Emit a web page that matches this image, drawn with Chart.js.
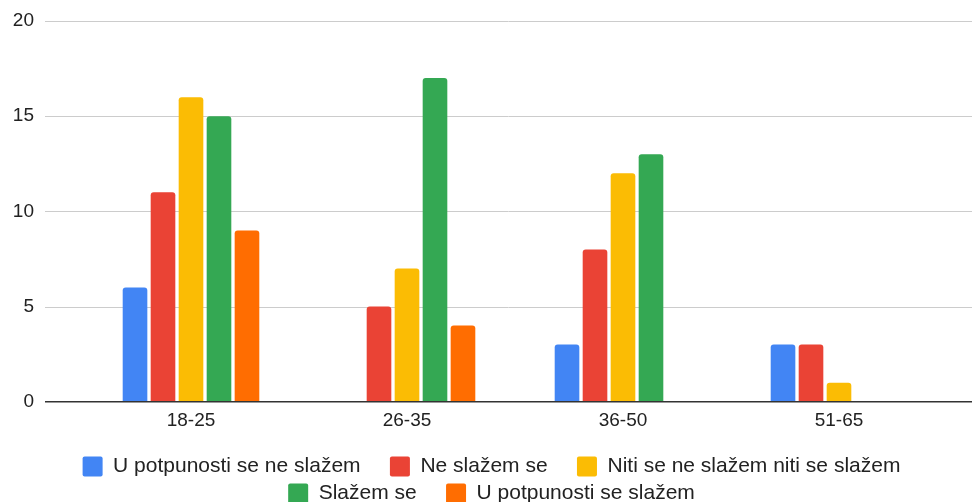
<!DOCTYPE html>
<html><head><meta charset="utf-8">
<script src="https://cdn.jsdelivr.net/npm/chart.js@4.4.1/dist/chart.umd.min.js"></script>
<style>html,body{margin:0;padding:0;background:#fff}canvas{display:block}</style>
</head><body>
<canvas id="c" width="972" height="502"></canvas>
<script>
const categories = ['18-25', '26-35', '36-50', '51-65'];
const seriesNames = ['U potpunosti se ne slažem', 'Ne slažem se', 'Niti se ne slažem niti se slažem', 'Slažem se', 'U potpunosti se slažem'];
const stronglyDisagree = [6, 0, 3, 3];
const disagree = [11, 5, 8, 3];
const neutral = [16, 7, 12, 1];
const agree = [15, 17, 13, 0];
const stronglyAgree = [9, 4, 0, 0];
const yTicks = [0, 5, 10, 15, 20];
const colors = ['#4285F4', '#EA4335', '#FBBC04', '#34A853', '#FF6D01'];
const seriesValues = [stronglyDisagree, disagree, neutral, agree, stronglyAgree];

const FONT = "'Liberation Sans', Arial, sans-serif";
const GRID_LEFT = 45;

const gridPlugin = {
  id: 'extGrid',
  beforeDatasetsDraw(chart) {
    const y = chart.scales.y, ctx = chart.ctx;
    ctx.save();
    ctx.strokeStyle = '#cccccc';
    ctx.lineWidth = 1;
    y.ticks.forEach(t => {
      if (t.value === 0) return;
      const py = Math.round(y.getPixelForValue(t.value)) + 0.5;
      ctx.beginPath(); ctx.moveTo(GRID_LEFT, py); ctx.lineTo(chart.width, py); ctx.stroke();
    });
    ctx.restore();
  },
  afterDatasetsDraw(chart) {
    const y = chart.scales.y, ctx = chart.ctx;
    ctx.save();
    ctx.strokeStyle = '#333333';
    ctx.lineWidth = 1.5;
    const py = y.getPixelForValue(0);
    ctx.beginPath(); ctx.moveTo(GRID_LEFT, py); ctx.lineTo(chart.width, py); ctx.stroke();
    ctx.restore();
  }
};

const suffix = '    ';
new Chart(document.getElementById('c'), {
  type: 'bar',
  data: {
    labels: categories,
    datasets: seriesNames.map((name, i) => ({
      label: name,
      data: seriesValues[i],
      backgroundColor: colors[i],
      borderWidth: 0,
      borderRadius: 3,
      borderSkipped: 'start',
      barPercentage: 0.88,
      categoryPercentage: 0.648
    }))
  },
  options: {
    responsive: false,
    animation: false,
    layout: { padding: { left: 11, right: 0, top: 21, bottom: -12 } },
    plugins: {
      tooltip: { enabled: false },
      legend: {
        position: 'bottom',
        labels: {
          font: { family: FONT, size: 21 },
          color: '#222222',
          boxWidth: 20,
          boxHeight: 20,
          padding: 6,
          useBorderRadius: true,
          borderRadius: 2,
          generateLabels(chart) {
            const items = Chart.defaults.plugins.legend.labels.generateLabels(chart);
            items.forEach((it, i) => {
              if (i === 0 || i === 1 || i === 3) it.text = it.text + suffix;
            });
            return items;
          }
        }
      }
    },
    scales: {
      x: {
        afterFit(scale) { scale.height = 48.3; },
        grid: { display: false, drawTicks: false },
        border: { display: false },
        ticks: { font: { family: FONT, size: 19 }, color: '#222222', padding: 7.5 }
      },
      y: {
        min: 0, max: 20,
        afterBuildTicks(scale) { scale.ticks = yTicks.map(v => ({ value: v })); },
        afterFit(scale) { scale.width = 72; },
        grid: { display: true, drawOnChartArea: false, drawTicks: true, tickLength: 49, tickColor: 'rgba(0,0,0,0)' },
        border: { display: false },
        ticks: { font: { family: FONT, size: 19 }, color: '#222222', padding: 0 }
      },
      yR: {
        position: 'right',
        display: true,
        afterFit(scale) { scale.width = 25; },
        grid: { display: false },
        border: { display: false },
        ticks: { display: false }
      }
    }
  },
  plugins: [gridPlugin]
});
</script>
</body></html>
